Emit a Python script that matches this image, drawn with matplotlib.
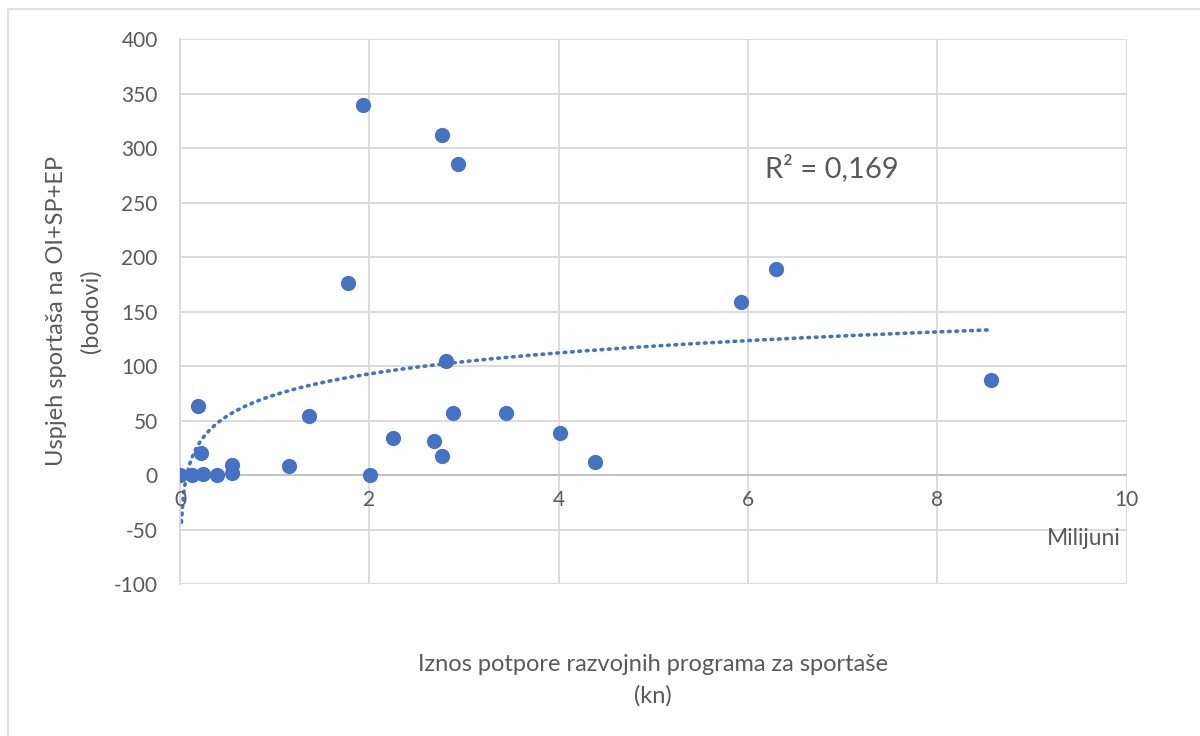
import numpy as np
import matplotlib.pyplot as plt
from matplotlib.patches import Rectangle

# support amount (millions kn) and success points
iznos = [0.0, 0.13, 0.24, 0.39, 0.55, 0.55, 0.19, 0.22, 1.15, 1.36, 1.77, 1.93,
         2.01, 2.25, 2.68, 2.77, 2.77, 2.81, 2.88, 2.94, 3.44, 4.01, 4.38,
         5.93, 6.29, 8.57]
bodovi = [0, 0, 1, 0, 9, 2, 63, 20, 8, 54, 176, 339,
          0, 34, 31, 312, 17, 105, 57, 285, 57, 39, 12,
          159, 189, 87]

# logarithmic trendline: y = a*ln(x) + b
trend_a = 27.8
trend_b = 73.5
trend_x_min = 0.015
r2_text = "R² = 0,169"

plt.rcParams['font.family'] = ['Lato', 'DejaVu Sans']
grey_txt = '#595959'
blue = '#4472C4'

fig = plt.figure(figsize=(12, 7.36), dpi=100)
ax = fig.add_axes([0.15, 0.2065, 0.789, 0.7405])

ax.scatter(iznos, bodovi, s=120, color=blue, zorder=3, linewidths=0)

tx = np.linspace(trend_x_min, max(iznos), 400)
ax.plot(tx, trend_a * np.log(tx) + trend_b, color=blue, lw=2.6,
        linestyle=(0, (0.45, 1.6)), dash_capstyle='round', zorder=2)

ax.set_xlim(0, 10)
ax.set_ylim(-100, 400)
ax.set_xticks(np.arange(0, 11, 2))
ax.set_yticks(np.arange(-100, 401, 50))
ax.grid(True, color='#d9d9d9', lw=1.3)
ax.set_axisbelow(True)
for s in ['top', 'right', 'bottom']:
    ax.spines[s].set_visible(False)
ax.spines['left'].set_color('#d9d9d9')
ax.spines['left'].set_linewidth(1.3)
ax.axhline(0, color='#bfbfbf', lw=1.3, zorder=1)
ax.tick_params(length=0, labelsize=15, colors=grey_txt, pad=16)

# x tick labels sit under the zero line
ax.set_xticklabels([])
for v in ax.get_xticks():
    ax.text(v, -14, '%d' % v, ha='center', va='top', fontsize=15, color=grey_txt)
ax.set_yticklabels(['%d' % v for v in ax.get_yticks()])

ax.text(9.93, -58, 'Milijuni', ha='right', va='center', fontsize=16.5, color=grey_txt)
ax.text(6.18, 282, r2_text, ha='left', va='center', fontsize=21, color=grey_txt)

fig.text(0.544, 0.076, 'Iznos potpore razvojnih programa za sportaše\n(kn)',
         ha='center', va='center', fontsize=17, color=grey_txt, linespacing=1.55)
fig.text(0.0615, 0.577, 'Uspjeh sportaša na OI+SP+EP\n(bodovi)', rotation=90,
         ha='center', va='center', fontsize=17, color=grey_txt, linespacing=1.7)

fig.patches.append(Rectangle((8 / 1200, -0.01), 1.1, 1 - 9 / 736 + 0.01,
                             transform=fig.transFigure, fill=False,
                             edgecolor='#d9d9d9', lw=1.2))

fig.savefig('out.png', dpi=100)
